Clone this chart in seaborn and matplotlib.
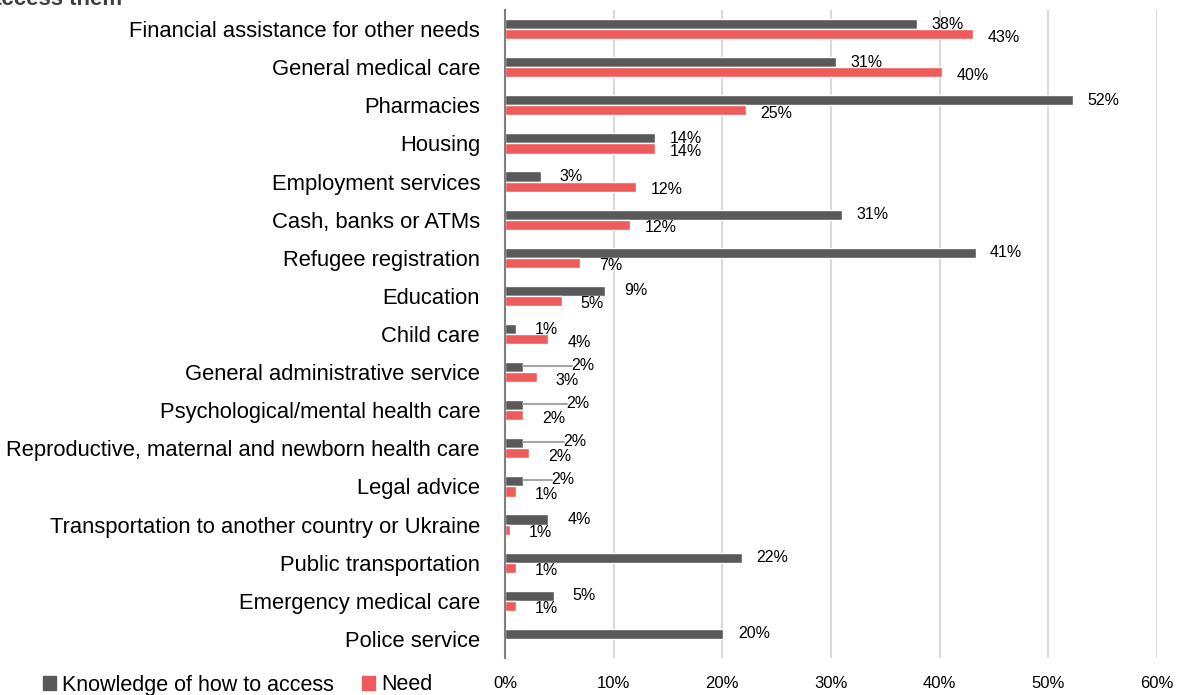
import pandas as pd
import matplotlib.pyplot as plt
import seaborn as sns
from matplotlib.patches import Patch

# Data (percent)
categories = [
    "Financial assistance for other needs", "General medical care", "Pharmacies",
    "Housing", "Employment services", "Cash, banks or ATMs", "Refugee registration",
    "Education", "Child care", "General administrative service",
    "Psychological/mental health care", "Reproductive, maternal and newborn health care",
    "Legal advice", "Transportation to another country or Ukraine",
    "Public transportation", "Emergency medical care", "Police service",
]
knowledge = [37.9, 30.5, 52.3, 13.8, 3.3, 31.0, 43.3, 9.2, 1.0, 1.7, 1.7, 1.7, 1.7, 4.0, 21.8, 4.5, 20.1]
need = [43.1, 40.2, 22.2, 13.8, 12.1, 11.5, 6.9, 5.2, 4.0, 2.9, 1.7, 2.2, 1.0, 0.5, 1.0, 1.0, 0.0]
knowledge_labels = ["38%", "31%", "52%", "14%", "3%", "31%", "41%", "9%", "1%", "2%",
                    "2%", "2%", "2%", "4%", "22%", "5%", "20%"]
need_labels = ["43%", "40%", "25%", "14%", "12%", "12%", "7%", "5%", "4%", "3%",
               "2%", "2%", "1%", "1%", "1%", "1%", None]
series = ["Knowledge of how to access", "Need"]

# labels that were dragged away from their bar, with leader lines
moved_knowledge = {
    "General administrative service": 7.2,
    "Psychological/mental health care": 6.7,
    "Reproductive, maternal and newborn health care": 6.4,
    "Legal advice": 5.3,
}

DARK = "#595959"
RED = "#EF5B5B"

df = pd.DataFrame({
    "Category": categories * 2,
    "Value": knowledge + need,
    "Series": [series[0]] * len(categories) + [series[1]] * len(categories),
})

sns.set_style("white")
plt.rcParams["font.family"] = ["Liberation Sans", "DejaVu Sans"]
plt.rcParams["text.color"] = "black"
plt.rcParams["xtick.color"] = "black"
plt.rcParams["ytick.color"] = "black"

fig = plt.figure(figsize=(11.78, 6.95), dpi=100)
ax = fig.add_axes([505 / 1178, 1 - 658 / 695, 652 / 1178, 648 / 695])

sns.barplot(data=df, y="Category", x="Value", hue="Series", orient="h",
            palette=[DARK, RED], width=0.53, ax=ax, legend=False, saturation=1)

ax.set_xlim(0, 60)
ax.set_ylim(len(categories) - 0.5, -0.5)
ax.set_xticks(range(0, 61, 10))
ax.set_xticklabels([f"{t}%" for t in range(0, 61, 10)], fontsize=12)
ax.tick_params(axis="x", length=0, pad=13)
ax.tick_params(axis="y", length=0, pad=18, labelsize=15.8)
ax.set_xlabel("")
ax.set_ylabel("")
ax.grid(axis="x", color="#D9D9D9", linewidth=1.5)
ax.set_axisbelow(True)
for side in ["top", "right", "bottom"]:
    ax.spines[side].set_visible(False)
ax.spines["left"].set_color("#7F7F7F")
ax.spines["left"].set_linewidth(1.5)

off = 2.8
for i, cat in enumerate(categories):
    yk = i - 0.13
    yn = i + 0.13 + 0.08
    if cat in moved_knowledge:
        lx = moved_knowledge[cat]
        ax.plot([knowledge[i], lx - 1.0], [yk - 0.03, yk - 0.03], color="#A6A6A6", lw=1.5, zorder=1)
        ax.text(lx, yk - 0.05, knowledge_labels[i], ha="center", va="center", fontsize=11.5)
    else:
        ax.text(knowledge[i] + off, yk, knowledge_labels[i], ha="center", va="center", fontsize=11.5)
    if need_labels[i]:
        ax.text(need[i] + off, yn, need_labels[i], ha="center", va="center", fontsize=11.5)

handles = [Patch(color=DARK, label=series[0]), Patch(color=RED, label=series[1])]
fig.legend(handles=handles, loc="center left", bbox_to_anchor=(34 / 1178, 1 - 685 / 695),
           ncol=2, frameon=False, fontsize=15.5, handlelength=0.6, handleheight=0.6,
           handletextpad=0.3, columnspacing=1.3, borderaxespad=0)

# chart title, cut off at the top of the picture
fig.text(-11 / 1178, 1 - 5 / 695, "access them", fontsize=16, fontweight="bold",
         color="#404040", va="baseline", ha="left")

fig.savefig("out.png", dpi=100)
